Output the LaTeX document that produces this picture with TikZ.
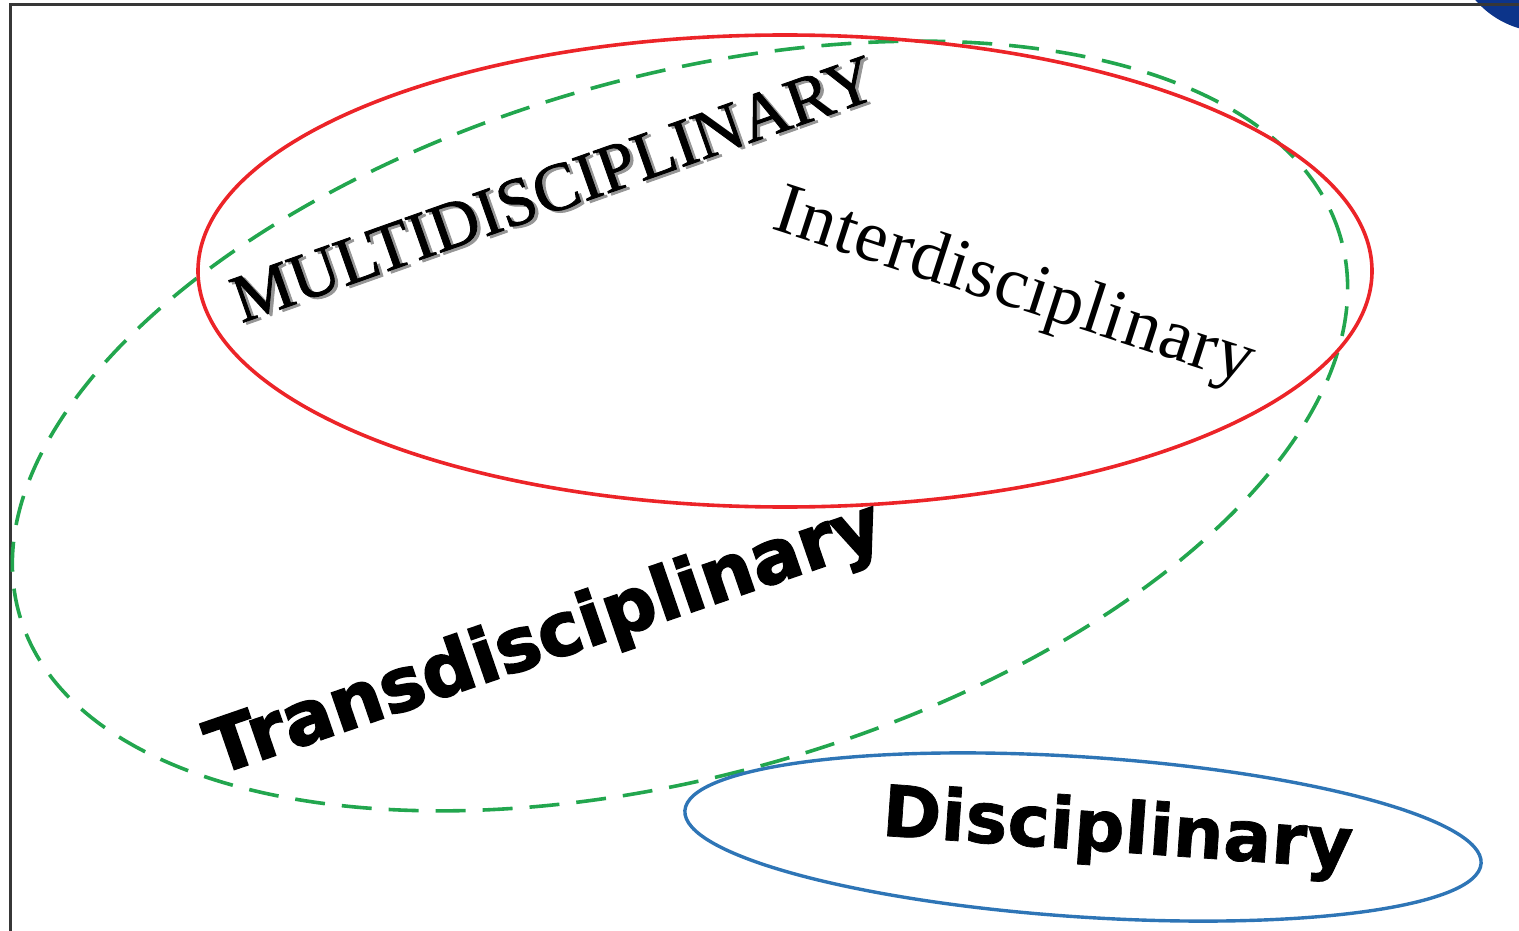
\documentclass[tikz,border=0pt]{standalone}
\usepackage{fontspec}
\setmainfont{Liberation Serif}
\newfontfamily\heavysans[FakeBold=2.5]{DejaVu Sans}
\newfontfamily\boldsans[FakeBold=1]{DejaVu Sans}
\newfontfamily\multiserif[FakeBold=1.2]{Liberation Serif}
\definecolor{ringred}{RGB}{236,36,40}
\definecolor{ringgreen}{RGB}{34,166,78}
\definecolor{ringblue}{RGB}{46,117,182}
\definecolor{framegray}{RGB}{55,55,55}
\definecolor{cornernavy}{RGB}{12,52,138}
\definecolor{shadowgray}{RGB}{150,150,150}
\newcommand{\shadowword}[1]{\makebox[0pt][l]{\kern2.5pt\raisebox{-3pt}{\textcolor{shadowgray}{#1}}}#1}
\tikzset{
  redring/.style={draw=ringred, line width=3.6pt},
  greenring/.style={draw=ringgreen, line width=3.6pt, dash pattern=on 30pt off 17pt},
  bluering/.style={draw=ringblue, line width=3.4pt},
  frameline/.style={draw=framegray, line width=3pt},
  wordlabel/.style={inner sep=0pt, anchor=base, text=black},
}
\begin{document}
\begin{tikzpicture}[x=1pt,y=-1pt]
\useasboundingbox (0,0) rectangle (1519,931);
\clip (0,0) rectangle (1519,931);
% corner shape
\fill[cornernavy] (1545,-60) circle[radius=92pt];
% frame
\draw[frameline] (10,935) -- (10,5) -- (1525,5);
% rings
\draw[greenring, rotate around={15.9:(680,426)}] (680,426) ellipse[x radius=687pt, y radius=349pt];
\draw[redring] (785,271) ellipse[x radius=587pt, y radius=236pt];
\draw[bluering, rotate around={-3.8:(1083,837)}] (1083,837) ellipse[x radius=399pt, y radius=80pt];
% labels
\node[wordlabel, rotate=19.5] (multi) at (561,210)
  {\multiserif\fontsize{68}{72}\selectfont\shadowword{MULTIDISCIPLINARY}};
\node[wordlabel, rotate=-18] (inter) at (1008,306)
  {\fontsize{73}{76}\selectfont\addfontfeatures{LetterSpace=1.5}Interdisciplinary};
\node[wordlabel, rotate=19] (trans) at (552,660)
  {\heavysans\bfseries\fontsize{74}{78}\selectfont Transdisciplinary};
\node[wordlabel, rotate=-4] (disc) at (1116,852)
  {\boldsans\bfseries\fontsize{71}{74}\selectfont Disciplinary};
\end{tikzpicture}
\end{document}
